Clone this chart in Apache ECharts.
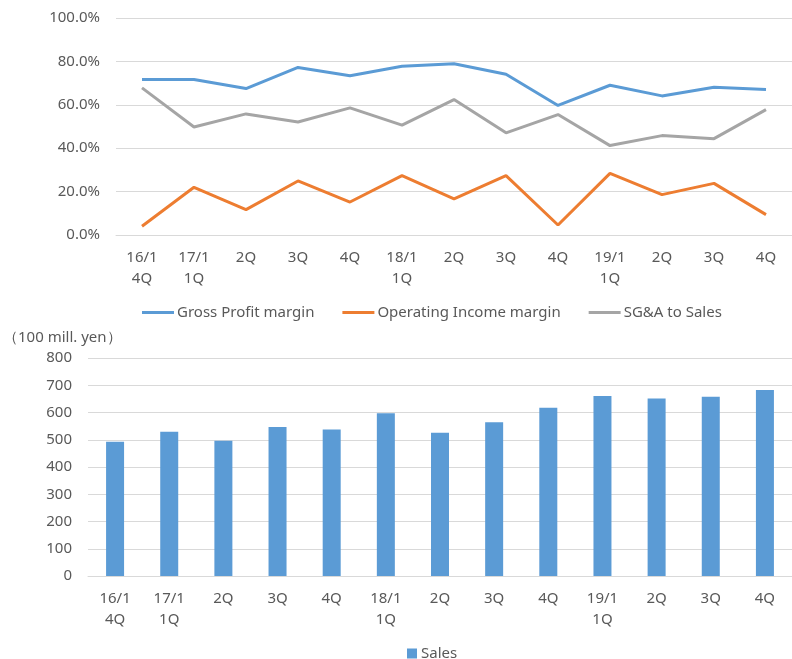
<!DOCTYPE html>
<html>
<head>
<meta charset="utf-8">
<script src="https://cdn.jsdelivr.net/npm/echarts@6/dist/echarts.min.js"></script>
<style>
html,body{margin:0;padding:0;background:#fff;}
#main{width:792px;height:659px;}
</style>
</head>
<body>
<div id="main"></div>
<script>
const categories = ['16/1\n4Q','17/1\n1Q','2Q','3Q','4Q','18/1\n1Q','2Q','3Q','4Q','19/1\n1Q','2Q','3Q','4Q'];
const grossProfitMargin = [71.7, 71.7, 67.5, 77.2, 73.4, 77.8, 78.9, 74.1, 59.7, 69.0, 64.1, 68.1, 67.0];
const operatingIncomeMargin = [4.0, 22.0, 11.7, 24.9, 15.2, 27.4, 16.6, 27.4, 4.6, 28.4, 18.6, 23.8, 9.4];
const sgaToSales = [67.8, 49.8, 55.8, 52.1, 58.6, 50.6, 62.4, 47.1, 55.5, 41.2, 45.8, 44.4, 57.8];
const sales = [493, 529, 496, 547, 538, 597, 526, 564, 617, 661, 651, 658, 683];
const unitLabel = '（100 mill. yen）';

const FONT = 'Noto Sans';
const TXT = '#595959';
const GRID = '#d9d9d9';

const chart = echarts.init(document.getElementById('main'), null, {renderer:'canvas'});
const xAxisBase = {
  type: 'category',
  data: categories,
  boundaryGap: true,
  axisTick: {show:false},
  axisLine: {show:true, lineStyle:{color:GRID, width:1}},
  axisLabel: {color:TXT, fontFamily:FONT, fontSize:15, lineHeight:21, margin:12, interval:0}
};
chart.setOption({
  animation: false,
  textStyle: {fontFamily: FONT},
  title: {
    text: unitLabel, left: -2, top: 325,
    textStyle: {color: TXT, fontFamily: FONT, fontSize: 15, fontWeight: 'normal'}
  },
  grid: [
    {left:116, top:18, width:679, height:217, containLabel:false},
    {left:88, top:358, width:708, height:218, containLabel:false}
  ],
  legend: [
    {
      data: ['Gross Profit margin','Operating Income margin','SG&A to Sales'],
      left: 137, top: 300, itemWidth: 32, itemHeight: 3, itemGap: 28,
      icon: 'rect',
      textStyle: {color: TXT, fontFamily: FONT, fontSize: 15, padding:[0,0,0,-2]}
    },
    {
      data: ['Sales'],
      left: 402, top: 641, itemWidth: 10, itemHeight: 10, icon: 'rect',
      textStyle: {color: TXT, fontFamily: FONT, fontSize: 15, padding:[0,0,0,-1]}
    }
  ],
  xAxis: [
    Object.assign({gridIndex:0}, xAxisBase),
    Object.assign({gridIndex:1}, xAxisBase)
  ],
  yAxis: [
    {
      gridIndex:0, type:'value', min:0, max:100, interval:20,
      axisLine:{show:false}, axisTick:{show:false},
      splitLine:{lineStyle:{color:GRID, width:1}},
      axisLabel:{color:TXT, fontFamily:FONT, fontSize:15, margin:16, formatter: v => v.toFixed(1) + '%'}
    },
    {
      gridIndex:1, type:'value', min:0, max:800, interval:100,
      axisLine:{show:false}, axisTick:{show:false},
      splitLine:{lineStyle:{color:GRID, width:1}},
      axisLabel:{color:TXT, fontFamily:FONT, fontSize:15, margin:16}
    }
  ],
  series: [
    {name:'Gross Profit margin', type:'line', xAxisIndex:0, yAxisIndex:0, data: grossProfitMargin,
      symbol:'none', lineStyle:{color:'#5B9BD5', width:3}, itemStyle:{color:'#5B9BD5'}},
    {name:'Operating Income margin', type:'line', xAxisIndex:0, yAxisIndex:0, data: operatingIncomeMargin,
      symbol:'none', lineStyle:{color:'#ED7D31', width:3}, itemStyle:{color:'#ED7D31'}},
    {name:'SG&A to Sales', type:'line', xAxisIndex:0, yAxisIndex:0, data: sgaToSales,
      symbol:'none', lineStyle:{color:'#A5A5A5', width:3}, itemStyle:{color:'#A5A5A5'}},
    {name:'Sales', type:'bar', xAxisIndex:1, yAxisIndex:1, data: sales,
      barWidth: 18, itemStyle:{color:'#5B9BD5'}}
  ]
});
</script>
</body>
</html>
